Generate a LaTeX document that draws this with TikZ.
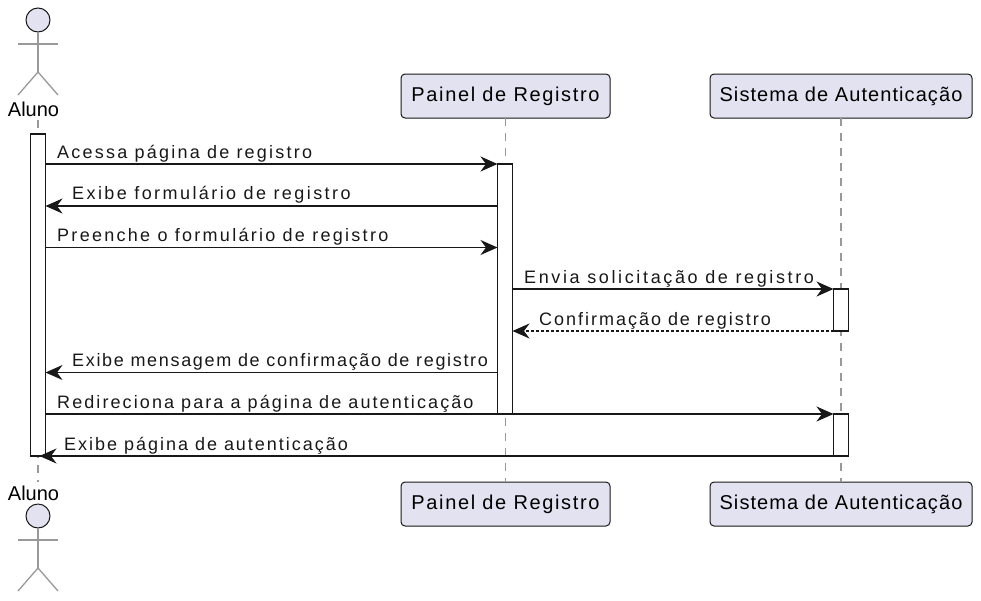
\documentclass[tikz,border=0pt]{standalone}
\usepackage{fontspec}
\setmainfont{Liberation Sans}
\usetikzlibrary{arrows.meta}
\definecolor{partfill}{HTML}{E2E2F0}
\definecolor{ink}{HTML}{181818}
\definecolor{lifegrey}{HTML}{999999}
\tikzset{
  partbox/.style={draw=ink,fill=partfill,line width=1pt,rounded corners=4pt,minimum width=#1,minimum height=44pt,inner sep=0pt,outer sep=0pt,text=black},
  lifeline/.style={draw=lifegrey,line width=1.2pt,dash pattern=on 8pt off 7pt},
  actbar/.style={draw=ink,fill=white,line width=1.6pt,minimum width=15pt,inner sep=0pt,outer sep=0pt,anchor=north},
  actorlimb/.style={draw=lifegrey,line width=1.3pt},
  actorhead/.style={circle,draw=ink,fill=partfill,line width=1pt,minimum size=24pt,inner sep=0pt,outer sep=0pt},
  actorname/.style={anchor=base,inner sep=0pt,font=\fontsize{20}{24}\selectfont,text=black},
  msg/.style={draw=ink,line width=1.6pt,-{Stealth[length=17pt,width=15pt,inset=5.5pt]}},
  msgdot/.style={msg,dash pattern=on 2.5pt off 2.5pt},
  msgtext/.style={anchor=base west,inner sep=0pt,text=ink}
}
\newcommand{\msgtxt}[2]{\fontspec{Liberation Sans}[LetterSpace=#1]\fontsize{18}{22}\selectfont #2}
\newcommand{\boxtxt}[2]{\fontspec{Liberation Sans}[LetterSpace=#1]\fontsize{20}{24}\selectfont #2}
\begin{document}
\begin{tikzpicture}[x=1pt,y=-1pt]
\useasboundingbox (0,0) rectangle (981,600);
% participants
\node[partbox=209pt] (pt) at (505.5,96) {\boxtxt{8.2}{Painel de Registro}};
\node[partbox=262pt] (st) at (841,96) {\boxtxt{5.4}{Sistema de Autenticação}};
\node[partbox=209pt] (pb) at (505.5,504) {\boxtxt{8.2}{Painel de Registro}};
\node[partbox=262pt] (sb) at (841,504) {\boxtxt{5.4}{Sistema de Autenticação}};
\node[actorname] (at) at (33.5,116.5) {Aluno};
\node[actorname] (ab) at (33.5,500.5) {Aluno};
\coordinate (alt) at (38,120);
\coordinate (alb) at (38,482);
% lifelines
\draw[lifeline] (alt) -- (alb);
\draw[lifeline] (pt.south) -- (pb.north);
\draw[lifeline] (st.south) -- (sb.north);
% actors
\node[actorhead] (ht) at (38,20) {};
\coordinate (tb) at (38,72); \coordinate (tl) at (18,44); \coordinate (tr) at (58,44);
\coordinate (tfl) at (18,95); \coordinate (tfr) at (58,95);
\draw[actorlimb] (ht) -- (tb);
\draw[actorlimb] (tl) -- (tr);
\draw[actorlimb] (tfl) -- (tb) -- (tfr);
\node[actorhead] (hb) at (38,516) {};
\coordinate (bb) at (38,568); \coordinate (bl) at (18,540); \coordinate (br) at (58,540);
\coordinate (bfl) at (18,591); \coordinate (bfr) at (58,591);
\draw[actorlimb] (hb) -- (bb);
\draw[actorlimb] (bl) -- (br);
\draw[actorlimb] (bfl) -- (bb) -- (bfr);
% activation bars
\node[actbar,minimum height=322pt] (a1) at (38,134) {};
\node[actbar,minimum height=250pt] (a2) at (505,164) {};
\node[actbar,minimum height=42pt] (a3) at (841,289) {};
\node[actbar,minimum height=42pt] (a4) at (841,414) {};
% messages
\coordinate (m8e) at (39.5,456);
\draw[msg] (a1.east |- 0,164) -- (a2.north west);
\draw[msg] (a2.west |- 0,206) -- (a1.east |- 0,206);
\draw[msg] (a1.east |- 0,247.5) -- (a2.west |- 0,247.5);
\draw[msg] (a2.east |- a3.north) -- (a3.north west);
\draw[msgdot] (a3.south west) -- (a2.east |- a3.south);
\draw[msg] (a2.west |- 0,372.5) -- (a1.east |- 0,372.5);
\draw[msg] (a1.east |- a4.north) -- (a4.north west);
\draw[msg] (a4.south west) -- (m8e);
% labels
\node[msgtext] (t1) at (57,158.4) {\msgtxt{12.4}{Acessa página de registro}};
\node[msgtext] (t2) at (72,199.8) {\msgtxt{13.5}{Exibe formulário de registro}};
\node[msgtext] (t3) at (57,241.4) {\msgtxt{12.7}{Preenche o formulário de registro}};
\node[msgtext] (t4) at (524,283.6) {\msgtxt{14.6}{Envia solicitação de registro}};
\node[msgtext] (t5) at (539,325) {\msgtxt{11}{Confirmação de registro}};
\node[msgtext] (t6) at (72,366.4) {\msgtxt{9.3}{Exibe mensagem de confirmação de registro}};
\node[msgtext] (t7) at (57,408.4) {\msgtxt{11.6}{Redireciona para a página de autenticação}};
\node[msgtext] (t8) at (64,450) {\msgtxt{11}{Exibe página de autenticação}};
\end{tikzpicture}
\end{document}
